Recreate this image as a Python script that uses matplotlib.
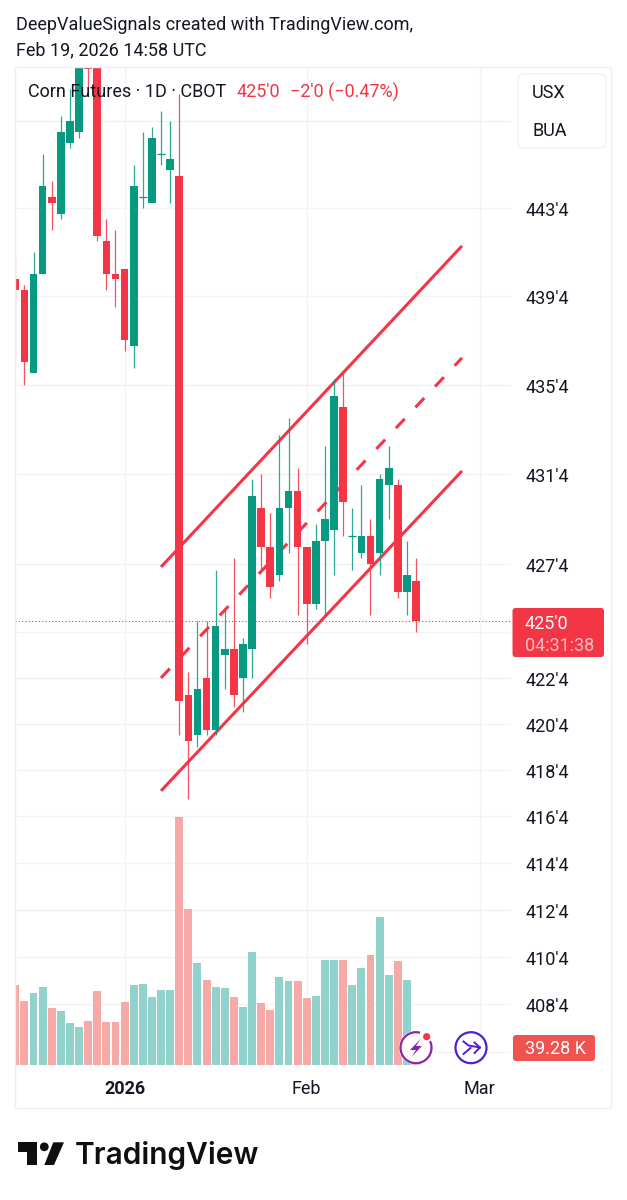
import numpy as np
import matplotlib
matplotlib.use('Agg')
import matplotlib.pyplot as plt
from matplotlib.patches import Arc, Circle, FancyBboxPatch, Polygon, Rectangle
from matplotlib.ticker import NullLocator
from matplotlib.transforms import ScaledTranslation

plt.rcParams['font.family'] = ['Roboto', 'DejaVu Sans']

# daily candles, prices in cents per bushel
opens = [440.25, 439.75, 436, 440.5, 444, 443.25, 446.5, 447, 450.25, 452, 442, 440.5, 440.75, 437.25, 444,
         443.75, 446, 445.25, 445, 421.75, 420, 422.5, 420.25, 423.5, 423.75, 422.5, 423.75, 430, 428.25, 427,
         430, 430.75, 428.25, 425.75, 428.5, 429, 434.5, 428.75, 428, 428.75, 428, 431, 431, 426.25, 426.75]
closes = [439.75, 436.5, 440.5, 444.5, 443.75, 447, 447.5, 451, 449.95, 442.25, 440.5, 440.25, 437.5, 444.5, 444,
          446.75, 446, 445.75, 421.5, 419.75, 422, 420.25, 424.75, 423.75, 421.75, 424, 430.5, 428.25, 426.5, 430,
          430.75, 428.25, 425.75, 428.5, 429.5, 435, 430.25, 428.75, 428.75, 427.5, 431.25, 431.75, 426.25, 427, 425]
highs = [441.25, 440, 441.5, 446, 444.75, 447.75, 449, 451.5, 450.5, 452.5, 443, 442.5, 440.75, 445.5, 447,
         447.25, 448, 447.5, 448.75, 422.75, 425, 425, 427.25, 425.5, 427.75, 424.25, 431.25, 431.5, 429.75, 433.25,
         434, 431.75, 428.25, 429.25, 432.75, 435.75, 436, 430, 431, 429.5, 431.5, 432.75, 431.25, 428.5, 427.75]
lows = [436.75, 435.5, 436, 440.5, 442.5, 443, 446.25, 446.75, 449, 442, 439.75, 439, 437, 436.25, 443.5,
        443.75, 445.5, 443.75, 420, 417.25, 419.5, 420, 420, 422, 421.25, 421, 422.5, 427.25, 426, 426.75,
        428, 425.25, 424, 425.5, 425.25, 427, 428.75, 427.25, 427.75, 425.25, 427, 429.5, 426, 425.25, 424.5]
volumes = [185.5, 148.6, 165.6, 181, 131, 124, 97, 87.8, 102.4, 171.7, 99.3, 99.3, 145.5, 184.8, 187.9,
           157, 173, 173, 574, 359.6, 235, 196, 179.4, 177, 157, 134.8, 260, 144, 126, 202.5,
           194.8, 194.8, 155.5, 159, 242.6, 241.8, 241.8, 184, 224, 254, 341, 208.6, 239.5, 195.6, 39.28]

# trend channel drawn on the chart
channel_x = [16, 49.05]
channel_upper = [427.37, 441.78]
channel_mid = [422.5, 436.7]
channel_lower = [417.6, 431.63]

last_price = 425

price_ticks = [447.5, 443.5, 439.5, 435.5, 431.5, 427.5, 424.5, 422.5, 420.5, 418.5, 416.5, 414.5, 412.5, 410.5, 408.5, 406.5]
price_labels = ['', "443'4", "439'4", "435'4", "431'4", "427'4", '', "422'4", "420'4", "418'4",
                "416'4", "414'4", "412'4", "410'4", "408'4", '']
date_ticks = [12, 32, 51]
date_labels = ['2026', 'Feb', 'Mar']

GREEN = '#089981'
RED = '#f23645'
GRID = '#f2f3f5'
TEXT = '#131722'
FS = 13
W, H = 627, 1200

fig = plt.figure(figsize=(W / 100, H / 100), dpi=100, facecolor='white')
pane = [15 / W, (H - 1065) / H, 496 / W, 998 / H]

ax = fig.add_axes(pane)
# volume has its own linear scale, on top so the grid stays behind the bars
ax_vol = fig.add_axes(pane, facecolor='none')

days = np.arange(len(opens))
o = np.array(opens)
c = np.array(closes)
up = c >= o

ax_vol.bar(days, volumes, width=0.87, color=np.where(up, '#92d2cc', '#f7a9a7'), zorder=2)
ax_vol.set_xlim(-0.033, 54.43)
ax_vol.set_ylim(0, 998 * 2.31)
ax_vol.set_yticks([])
ax_vol.set_xticks([])
for s in ax_vol.spines.values():
    s.set_visible(False)

ax.set_yscale('log')
ax.set_xlim(-0.033, 54.43)
ax.set_ylim(405.94, 450.02)

ax.yaxis.tick_right()
ax.set_yticks(price_ticks, labels=price_labels)
ax.yaxis.set_minor_locator(NullLocator())
ax.set_xticks(date_ticks, labels=date_labels)
ax.tick_params(axis='y', length=0, pad=10.5, labelsize=FS, labelcolor=TEXT)
ax.tick_params(axis='x', length=0, pad=11, labelsize=FS, labelcolor=TEXT)
ax.get_xticklabels()[0].set_fontweight('bold')
for lab in ax.get_yticklabels():
    lab.set_transform(lab.get_transform() + ScaledTranslation(0, -1 / 100, fig.dpi_scale_trans))
ax.grid(True, color=GRID, lw=1)
ax.set_axisbelow(True)
for s in ax.spines.values():
    s.set_visible(False)

ax.axhline(last_price, color=RED, lw=0.8, ls=(0, (1, 2)), zorder=1.5)

ax.plot(channel_x, channel_upper, color=RED, lw=2.2, zorder=1.8, solid_capstyle='butt')
ax.plot(channel_x, channel_lower, color=RED, lw=2.2, zorder=1.8, solid_capstyle='butt')
ax.plot(channel_x, channel_mid, color=RED, lw=2.2, ls=(0, (4.2, 5.15)), zorder=1.8)

colors = np.where(up, GREEN, RED)
ax.vlines(days, lows, highs, colors=colors, lw=0.9, alpha=0.85, zorder=2)
ax.bar(days, np.abs(c - o), bottom=np.minimum(o, c), width=0.84, color=colors, zorder=3)
flat = o == c
ax.hlines(o[flat], days[flat] - 0.42, days[flat] + 0.42, colors=GREEN, lw=0.9, zorder=3)

# everything around the chart is placed in pixels on a full figure overlay
top = fig.add_axes([0, 0, 1, 1], facecolor='none', zorder=5)
top.set_xlim(0, W)
top.set_ylim(H, 0)
top.axis('off')

top.add_patch(Rectangle((15, 67), 596, 1041, fc='none', ec='#eeeff2', lw=1))

top.text(16, 25, 'DeepValueSignals created with TradingView.com,', fontsize=FS, color=TEXT, va='center')
top.text(16, 50, 'Feb 19, 2026 14:58 UTC', fontsize=FS, color=TEXT, va='center')

top.text(28, 92, 'Corn Futures · 1D · CBOT', fontsize=FS, color=TEXT, va='center')
top.text(237, 92, "425'0", fontsize=FS, color=RED, va='center')
top.text(290, 92, "−2'0 (−0.47%)", fontsize=FS, color=RED, va='center')

top.add_patch(FancyBboxPatch((518, 74), 88, 74, boxstyle='round,pad=0,rounding_size=6', fc='white', ec='#f0f1f3', lw=1))
top.text(532, 93, 'USX', fontsize=FS, color=TEXT, va='center')
top.text(532, 131, 'BUA', fontsize=FS, color=TEXT, va='center')

top.add_patch(FancyBboxPatch((512.5, 608), 91.5, 49, boxstyle='round,pad=0,rounding_size=3', fc=RED, ec='none'))
top.text(525, 624, "425'0", fontsize=FS, color='white', va='center')
top.text(525, 646, '04:31:38', fontsize=FS, color='white', alpha=0.65, va='center')

top.add_patch(FancyBboxPatch((513, 1035), 82, 26, boxstyle='round,pad=0,rounding_size=3', fc='#ef5350', ec='none'))
top.text(525, 1049, '39.28 K', fontsize=FS, color='white', va='center')

# the two round buttons over the volume pane
PURPLE = '#8e24aa'
top.add_patch(Circle((416, 1047.7), 17, fc='white', ec='none'))
top.add_patch(Arc((416, 1047.7), 31, 31, theta1=-25, theta2=285, color=PURPLE, lw=1.6))
top.add_patch(Polygon([(421, 1038.5), (410, 1050), (416, 1050), (411.5, 1057), (422, 1046), (416, 1046)],
                      fc=PURPLE, ec='none'))
top.add_patch(Circle((426.7, 1036.7), 4.8, fc='white', ec='none'))
top.add_patch(Circle((426.7, 1036.7), 3.6, fc=RED, ec='none'))

VIOLET = '#4f1fd8'
top.add_patch(Circle((471, 1047.7), 17, fc='white', ec='none'))
top.add_patch(Circle((471, 1047.7), 15.5, fc='white', ec=VIOLET, lw=1.6))
top.plot([463.5, 468.5, 480], [1041.5, 1045.5, 1047.5], color=VIOLET, lw=1.4)
top.plot([463.5, 470.5], [1054, 1048], color=VIOLET, lw=1.4)
top.plot([474.5, 480, 474.5], [1042.5, 1047.5, 1053], color=VIOLET, lw=1.4)

# TradingView logo
INK = '#0f0f0f'
top.add_patch(Polygon([(18.3, 1142.3), (37.3, 1142.3), (37.3, 1165), (27.3, 1165), (27.3, 1152.3), (18.3, 1152.3)],
                      fc=INK, ec='none'))
top.add_patch(Circle((44.3, 1146.8), 4.4, fc=INK, ec='none'))
top.add_patch(Polygon([(53.3, 1142.3), (64, 1142.3), (54, 1165), (44.3, 1165)], fc=INK, ec='none'))
top.text(75, 1155, 'TradingView', family='Inter', fontsize=21.5, fontweight='semibold', color=INK, va='center')

fig.savefig('out.png', dpi=100)
